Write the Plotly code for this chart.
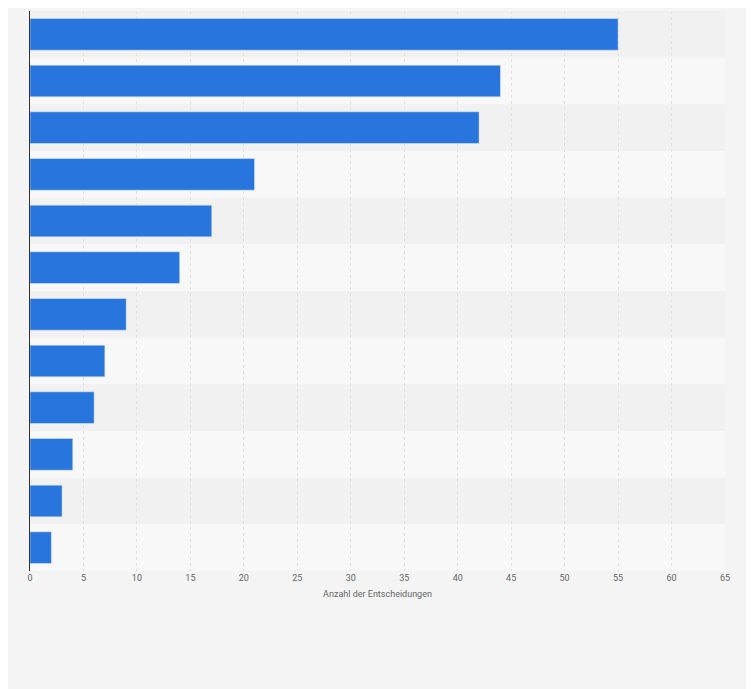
import plotly.graph_objects as go

categories = ["A","B","C","D","E","F","G","H","I","J","K","L"]
values = [55, 44, 42, 21, 17, 14, 9, 7, 6, 4, 3, 2]
x_ticks = list(range(0, 70, 5))

fig = go.Figure(go.Bar(
    y=categories, x=values, orientation="h",
    marker_color="#2876dd", width=0.68, hoverinfo="x",
))

shapes = []
for i, c in enumerate(categories):
    shapes.append(dict(type="rect", xref="paper", yref="y", layer="below",
                       x0=0, x1=1, y0=i - 0.5, y1=i + 0.5, line_width=0,
                       fillcolor="#f1f1f1" if i % 2 == 0 else "#f8f8f8"))

fig.update_layout(
    width=754, height=689,
    paper_bgcolor="#f4f4f4", plot_bgcolor="#f8f8f8",
    margin=dict(l=22, r=37, t=3, b=126),
    shapes=shapes, showlegend=False,
    font=dict(family="Roboto, Arial", color="#666", size=9),
    xaxis=dict(range=[0, 65], tickvals=x_ticks, showgrid=True,
               gridcolor="#e0e0e0", griddash="dot", zeroline=False,
               title=dict(text="Anzahl der Entscheidungen", font=dict(size=9, color="#666"), standoff=8),
               ticks="", tickfont=dict(size=9, color="#666")),
    yaxis=dict(autorange="reversed", showticklabels=False, showgrid=False,
               showline=True, linecolor="#333", linewidth=1, ticks=""),
)
fig.write_html("out.html", config={"displayModeBar": False})
